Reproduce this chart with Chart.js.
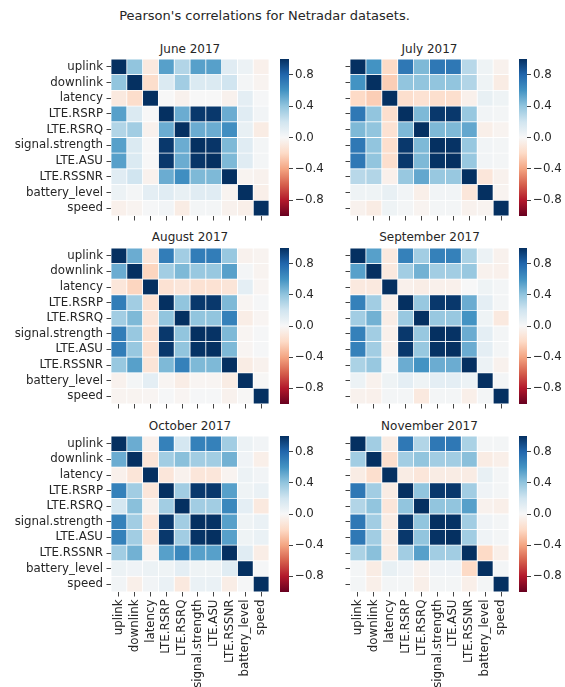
<!DOCTYPE html>
<html>
<head>
<meta charset="utf-8">
<script src="https://cdn.jsdelivr.net/npm/chart.js@4.4.0/dist/chart.umd.min.js"></script>
<style>
  body { margin: 0; background: #fff; width: 565px; height: 687px; position: relative; overflow: hidden;
         font-family: 'DejaVu Sans', sans-serif; color: #262626; }
  canvas { position: absolute; }
  .t { position: absolute; white-space: nowrap; transform: translate(-50%, -50%); }
</style>
</head>
<body>
<div class="t" style="left:264.5px; top:15px; font-size:13px">Pearson's correlations for Netradar datasets.</div>
<script>
const variables = ['uplink', 'downlink', 'latency', 'LTE.RSRP', 'LTE.RSRQ', 'signal.strength', 'LTE.ASU', 'LTE.RSSNR', 'battery_level', 'speed'];
const months = ['June 2017', 'July 2017', 'August 2017', 'September 2017', 'October 2017', 'November 2017'];

// correlation matrices (rows/cols in the order of `variables`)
const june = [
  [1, 0.4, -0.1, 0.55, 0.3, 0.55, 0.55, 0.12, 0.06, -0.05],
  [0.4, 1, -0.18, 0.15, 0.35, 0.15, 0.15, 0.2, 0.02, -0.03],
  [-0.1, -0.18, 1, 0.0, -0.04, 0.0, 0.0, -0.04, 0.1, 0.01],
  [0.55, 0.15, 0.0, 1, 0.5, 0.97, 0.97, 0.5, 0.12, 0.03],
  [0.3, 0.35, -0.04, 0.5, 1, 0.5, 0.5, 0.62, 0.08, -0.08],
  [0.55, 0.15, 0.0, 0.97, 0.5, 1, 0.98, 0.45, 0.12, 0.02],
  [0.55, 0.15, 0.0, 0.97, 0.5, 0.98, 1, 0.45, 0.12, 0.02],
  [0.12, 0.2, -0.04, 0.5, 0.62, 0.45, 0.45, 1, -0.03, -0.04],
  [0.06, 0.02, 0.1, 0.12, 0.08, 0.12, 0.12, -0.03, 1, -0.06],
  [-0.05, -0.03, 0.01, 0.03, -0.08, 0.02, 0.02, -0.04, -0.06, 1]
];
const july = [
  [1, 0.6, -0.2, 0.72, 0.45, 0.72, 0.72, 0.28, 0.05, -0.04],
  [0.6, 1, -0.25, 0.4, 0.4, 0.4, 0.4, 0.3, 0.05, -0.08],
  [-0.2, -0.25, 1, -0.17, -0.15, -0.17, -0.17, -0.05, 0.08, 0.05],
  [0.72, 0.4, -0.17, 1, 0.45, 0.97, 0.97, 0.38, 0.03, 0.02],
  [0.45, 0.4, -0.15, 0.45, 1, 0.45, 0.45, 0.52, -0.06, -0.03],
  [0.72, 0.4, -0.17, 0.97, 0.45, 1, 0.99, 0.38, 0.03, 0.02],
  [0.72, 0.4, -0.17, 0.97, 0.45, 0.99, 1, 0.38, 0.03, 0.02],
  [0.28, 0.3, -0.05, 0.38, 0.52, 0.38, 0.38, 1, -0.12, -0.04],
  [0.05, 0.05, 0.08, 0.03, -0.06, 0.03, 0.03, -0.12, 1, -0.03],
  [-0.04, -0.08, 0.05, 0.02, -0.03, 0.02, 0.02, -0.04, -0.03, 1]
];
const august = [
  [1, 0.5, -0.12, 0.7, 0.35, 0.7, 0.7, 0.38, -0.04, -0.03],
  [0.5, 1, -0.22, 0.35, 0.45, 0.38, 0.38, 0.55, 0.02, -0.03],
  [-0.12, -0.22, 1, -0.15, -0.12, -0.15, -0.15, -0.13, 0.1, -0.02],
  [0.7, 0.35, -0.15, 1, 0.4, 0.97, 0.97, 0.45, -0.02, 0.01],
  [0.35, 0.45, -0.12, 0.4, 1, 0.4, 0.4, 0.68, -0.07, -0.02],
  [0.7, 0.38, -0.15, 0.97, 0.4, 1, 0.99, 0.45, -0.02, 0.01],
  [0.7, 0.38, -0.15, 0.97, 0.4, 0.99, 1, 0.45, -0.02, 0.01],
  [0.38, 0.55, -0.13, 0.45, 0.68, 0.45, 0.45, 1, -0.08, -0.04],
  [-0.04, 0.02, 0.1, -0.02, -0.07, -0.02, -0.02, -0.08, 1, -0.01],
  [-0.03, -0.03, -0.02, 0.01, -0.02, 0.01, 0.01, -0.04, -0.01, 1]
];
const september = [
  [1, 0.55, -0.1, 0.68, 0.35, 0.68, 0.68, 0.32, 0.06, -0.04],
  [0.55, 1, -0.1, 0.35, 0.48, 0.35, 0.35, 0.38, -0.04, -0.05],
  [-0.1, -0.1, 1, -0.05, -0.07, -0.05, -0.05, 0.0, 0.05, 0.02],
  [0.68, 0.35, -0.05, 1, 0.38, 0.97, 0.97, 0.5, 0.1, 0.02],
  [0.35, 0.48, -0.07, 0.38, 1, 0.38, 0.38, 0.6, 0.05, -0.1],
  [0.68, 0.35, -0.05, 0.97, 0.38, 1, 0.99, 0.5, 0.1, 0.02],
  [0.68, 0.35, -0.05, 0.97, 0.38, 0.99, 1, 0.5, 0.1, 0.02],
  [0.32, 0.38, 0.0, 0.5, 0.6, 0.5, 0.5, 1, 0.06, -0.04],
  [0.06, -0.04, 0.05, 0.1, 0.05, 0.1, 0.1, 0.06, 1, 0.02],
  [-0.04, -0.05, 0.02, 0.02, -0.1, 0.02, 0.02, -0.06, 0.02, 1]
];
const october = [
  [1, 0.5, -0.05, 0.68, 0.18, 0.68, 0.68, 0.35, 0.06, 0.03],
  [0.5, 1, -0.13, 0.35, 0.42, 0.35, 0.35, 0.48, 0.04, -0.06],
  [-0.05, -0.13, 1, -0.12, -0.04, -0.12, -0.12, -0.03, 0.06, 0.03],
  [0.68, 0.35, -0.12, 1, 0.35, 0.97, 0.97, 0.55, 0.05, 0.07],
  [0.18, 0.42, -0.04, 0.35, 1, 0.35, 0.35, 0.65, 0.1, -0.1],
  [0.68, 0.35, -0.12, 0.97, 0.35, 1, 0.99, 0.55, 0.05, 0.07],
  [0.68, 0.35, -0.12, 0.97, 0.35, 0.99, 1, 0.55, 0.05, 0.07],
  [0.35, 0.48, -0.03, 0.55, 0.65, 0.55, 0.55, 1, 0.12, -0.07],
  [0.06, 0.04, 0.06, 0.05, 0.1, 0.05, 0.05, 0.12, 1, 0.01],
  [0.03, -0.06, 0.03, 0.07, -0.1, 0.07, 0.07, -0.07, 0.01, 1]
];
const november = [
  [1, 0.35, -0.08, 0.72, 0.3, 0.72, 0.72, 0.32, 0.02, 0.02],
  [0.35, 1, -0.17, 0.35, 0.4, 0.35, 0.35, 0.42, -0.08, -0.06],
  [-0.08, -0.17, 1, -0.08, -0.12, -0.08, -0.08, -0.08, 0.08, 0.02],
  [0.72, 0.35, -0.08, 1, 0.4, 0.97, 0.97, 0.35, 0.04, 0.02],
  [0.3, 0.4, -0.12, 0.4, 1, 0.4, 0.4, 0.55, -0.04, -0.06],
  [0.72, 0.35, -0.08, 0.97, 0.4, 1, 0.99, 0.35, 0.04, 0.02],
  [0.72, 0.35, -0.08, 0.97, 0.4, 0.99, 1, 0.35, 0.04, 0.02],
  [0.32, 0.42, -0.08, 0.35, 0.55, 0.35, 0.35, 1, -0.2, -0.06],
  [0.02, -0.08, 0.08, 0.04, -0.04, 0.04, 0.04, -0.2, 1, 0.02],
  [0.02, -0.06, 0.02, 0.02, -0.06, 0.02, 0.02, -0.06, 0.02, 1]
];
const monthData = [june, july, august, september, october, november];

const cbarRange = [-1, 1];
const cbarTicks = [-0.8, -0.4, 0, 0.4, 0.8];

// RdBu colormap (matplotlib / ColorBrewer), low -> high
const rdbu = ['#67001f', '#b2182b', '#d6604d', '#f4a582', '#fddbc7', '#f7f7f7',
              '#d1e5f0', '#92c5de', '#4393c3', '#2166ac', '#053061'];

function hex(c) { return [1, 3, 5].map(i => parseInt(c.substr(i, 2), 16)); }
function colorFor(v) {
  const t = Math.max(0, Math.min(1, (v + 1) / 2)) * (rdbu.length - 1);
  const i = Math.min(Math.floor(t), rdbu.length - 2), f = t - i;
  const a = hex(rdbu[i]), b = hex(rdbu[i + 1]);
  return 'rgb(' + a.map((x, k) => Math.round(x + (b[k] - x) * f)).join(',') + ')';
}

Chart.defaults.font.family = "'DejaVu Sans', sans-serif";
Chart.defaults.color = '#262626';
const tickFont = { size: 11.8 };

// panel geometry (pixels in the page)
const cols = [
  { heat: 111, w: 158, cb: 280, cbw: 9, yW: 111, title: 190 },
  { heat: 350, w: 159, cb: 519, cbw: 8, yW: 10, title: 429.5 }
];
const rows = [
  { top: 59, h: 157, title: 49 },
  { top: 248, h: 156, title: 237 },
  { top: 436, h: 156, title: 426 }
];

function makeCanvas(left, top, w, h) {
  const c = document.createElement('canvas');
  c.width = w; c.height = h;
  c.style.left = left + 'px'; c.style.top = top + 'px';
  c.style.width = w + 'px'; c.style.height = h + 'px';
  document.body.appendChild(c);
  return c;
}
function fixSize(prop, val) {
  return s => {
    s[prop] = val;
    s.paddingTop = s.paddingBottom = s.paddingLeft = s.paddingRight = 0;
  };
}
const tickGrid = { drawOnChartArea: false, drawTicks: true, tickLength: 4.5, color: '#444', lineWidth: 1 };

monthData.forEach((m, k) => {
  const col = cols[k % 2], row = rows[Math.floor(k / 2)];
  const bottomRow = k >= 4;
  const xH = bottomRow ? 687 - (row.top + row.h) : 8;

  const title = document.createElement('div');
  title.className = 't';
  title.style.cssText = `left:${col.title}px; top:${row.title}px; font-size:12px`;
  title.textContent = months[k];
  document.body.appendChild(title);

  // heatmap
  new Chart(makeCanvas(col.heat - col.yW, row.top, col.yW + col.w, row.h + xH), {
    type: 'bar',
    data: {
      labels: variables,
      datasets: variables.map((name, j) => ({
        label: name,
        data: m.map(() => [j, j + 1]),
        backgroundColor: m.map(r => colorFor(r[j])),
        borderColor: '#ffffff',
        borderWidth: 0.75,
        borderSkipped: false,
        barPercentage: 1,
        categoryPercentage: 1,
        grouped: false
      }))
    },
    options: {
      indexAxis: 'y',
      responsive: false,
      animation: false,
      layout: { padding: 0 },
      plugins: { legend: { display: false }, tooltip: { enabled: false } },
      scales: {
        y: {
          type: 'category',
          offset: true,
          grid: Object.assign({ offset: false }, tickGrid),
          border: { display: false },
          ticks: { display: k % 2 === 0, autoSkip: false, padding: 3.5, font: tickFont, color: '#262626' },
          afterFit: fixSize('width', col.yW)
        },
        x: {
          type: 'linear',
          min: 0,
          max: variables.length,
          grid: tickGrid,
          border: { display: false },
          afterBuildTicks: s => { s.ticks = variables.map((v, j) => ({ value: j + 0.5 })); },
          ticks: {
            display: bottomRow, autoSkip: false, minRotation: 90, maxRotation: 90,
            padding: 3, font: tickFont, color: '#262626',
            callback: (v, i) => variables[i]
          },
          afterFit: fixSize('height', xH)
        }
      }
    }
  });

  // colour bar
  const cbAxisW = 45;
  new Chart(makeCanvas(col.cb, row.top, col.cbw + cbAxisW, row.h), {
    type: 'bar',
    data: {
      labels: [''],
      datasets: [{
        data: [cbarRange],
        backgroundColor: ctx => {
          const area = ctx.chart.chartArea;
          if (!area) return rdbu[5];
          const g = ctx.chart.ctx.createLinearGradient(0, area.bottom, 0, area.top);
          rdbu.forEach((c, i) => g.addColorStop(i / (rdbu.length - 1), c));
          return g;
        },
        borderWidth: 0,
        barPercentage: 1,
        categoryPercentage: 1
      }]
    },
    options: {
      responsive: false,
      animation: false,
      layout: { padding: 0 },
      plugins: { legend: { display: false }, tooltip: { enabled: false } },
      scales: {
        x: { display: false },
        y: {
          position: 'right',
          min: cbarRange[0],
          max: cbarRange[1],
          grid: Object.assign({}, tickGrid, { tickLength: 4 }),
          border: { display: false },
          afterBuildTicks: s => { s.ticks = cbarTicks.map(v => ({ value: v })); },
          ticks: {
            padding: 2, font: tickFont, color: '#262626',
            callback: v => v.toFixed(1).replace('-', '\u2212')
          },
          afterFit: fixSize('width', cbAxisW)
        }
      }
    }
  });
});
</script>
</body>
</html>
